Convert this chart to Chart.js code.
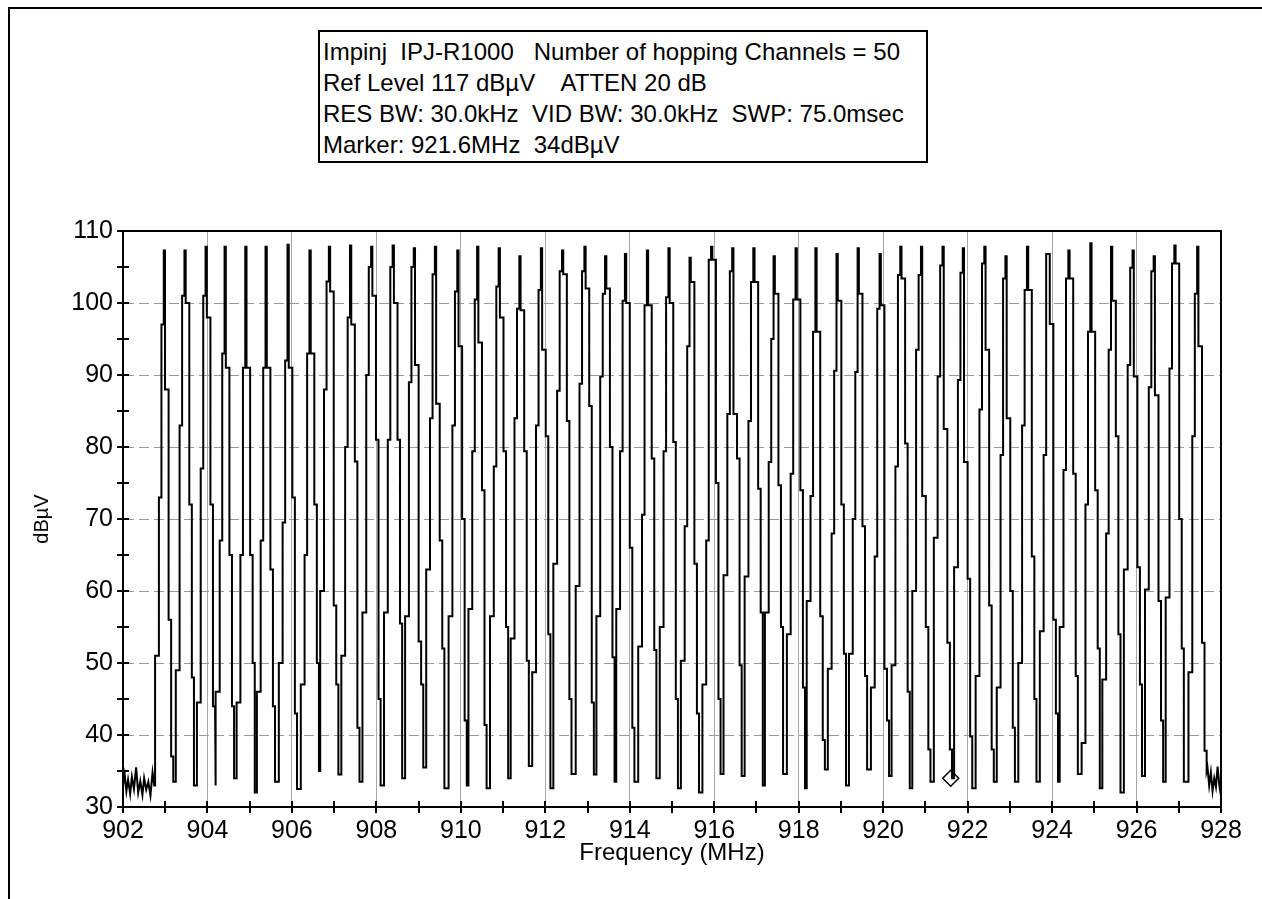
<!DOCTYPE html>
<html>
<head>
<meta charset="utf-8">
<script src="https://cdn.jsdelivr.net/npm/chart.js@4.4.1/dist/chart.umd.min.js"></script>
<style>
  html, body { margin: 0; padding: 0; background: #fff; }
  #wrap { position: relative; width: 1262px; height: 899px; overflow: hidden; }
  #frame { position: absolute; left: 8px; top: 7px; width: 1400px; height: 1000px;
    border-left: 2px solid #000; border-top: 2px solid #000; }
  #info { position: absolute; left: 318px; top: 30px; width: 610px; height: 133px;
    box-sizing: border-box; border: 2px solid #000; padding: 4px 0 0 3px;
    font-family: "Liberation Sans", Arial, sans-serif; font-size: 24px; line-height: 31px;
    white-space: pre; color: #000; background: #fff; }
  canvas { position: absolute; left: 0; top: 0; }
</style>
</head>
<body>
<div id="wrap">
  <div id="frame"></div>
  <canvas id="spectrum" width="1262" height="899"></canvas>
  <div id="info">Impinj  IPJ-R1000   Number of hopping Channels = 50
Ref Level 117 dBµV    ATTEN 20 dB
RES BW: 30.0kHz  VID BW: 30.0kHz  SWP: 75.0msec
Marker: 921.6MHz  34dBµV</div>
</div>
<script>
const FONT = '"Liberation Sans", Arial, sans-serif';

// noise floor before the first channel and after the last one (MHz, dBµV)
const leadNoiseFreq = [902.0, 902.04, 902.08, 902.12, 902.17, 902.21, 902.26, 902.31, 902.36, 902.41, 902.46, 902.5, 902.55, 902.6, 902.65, 902.7, 902.74];
const leadNoiseLevel = [33, 34.5, 32.2, 33.8, 31.8, 34.2, 32.5, 35.5, 32, 33.6, 31.7, 34, 32.4, 33.5, 31.6, 34.8, 33];
const trailNoiseFreq = [927.68, 927.72, 927.76, 927.8, 927.84, 927.88, 927.92, 927.96, 928.0];
const trailNoiseLevel = [35.5, 33, 34.8, 32.2, 34, 32.8, 35.6, 33, 31.5];

// 50 hopping channels: peak position and the levels where the trace steps
const chFreq = [902.98, 903.47, 903.97, 904.42, 904.91, 905.39, 905.91, 906.43, 906.89, 907.39,
  907.89, 908.40, 908.90, 909.40, 909.93, 910.40, 910.91, 911.40, 911.91, 912.41,
  912.94, 913.43, 913.90, 914.42, 914.93, 915.43, 915.94, 916.44, 916.94, 917.42,
  917.94, 918.41, 918.91, 919.41, 919.93, 920.42, 920.91, 921.42, 921.90, 922.41,
  922.91, 923.42, 923.93, 924.40, 924.92, 925.41, 925.92, 926.42, 926.91, 927.45];
const chPeak = [107.3, 107.3, 107.8, 107.8, 107.8, 107.8, 108.1, 107.3, 107.8, 108.0,
  107.8, 108.0, 107.6, 107.8, 107.3, 107.8, 107.6, 106.5, 107.6, 107.3,
  107.8, 106.5, 106.8, 107.3, 107.6, 106.3, 107.8, 107.6, 107.6, 106.5,
  107.6, 107.6, 106.8, 107.6, 106.8, 107.8, 107.8, 107.8, 107.6, 107.8,
  106.5, 107.8, 106.8, 107.3, 108.3, 107.8, 107.3, 106.5, 108.0, 107.8];
const riseLo = [51, 49, 44.5, 46, 44.5, 46, 50, 47, 60, 51,
  57, 57, 56.5, 63, 56.5, 57.5, 56.5, 53.4, 48.7, 63.8,
  60.7, 56.5, 57.5, 52.3, 55, 50.3, 47, 62.2, 62, 57,
  54, 58.6, 49.2, 51.3, 46.6, 49.7, 60, 67.4, 63.3, 48.2,
  46.6, 50, 54.4, 55, 38.9, 47.7, 63, 60.2, 59.1, 48.7];
const riseMid = [73, 83, 77, 67, 65, 67, 69.5, 65, 88, 80,
  90, 81, 89, 84, 83, 79.4, 77.3, 84, 83, 87.8,
  88.8, 89.8, 79.4, 70.6, 79.4, 69, 67, 84.6, 83.6, 77.9,
  76.3, 73.2, 68, 70, 64.8, 77.3, 93.5, 89.8, 89.3, 85.2,
  78.9, 83, 78.9, 76.8, 72, 68, 91.4, 88.3, 90.9, 81.5];
const riseHi = [97, 101, 101, 93, 91, 91, 92, 93, 103, 98,
  105, 105, 105, 104, 101.6, 100.5, 102.3, 99.2, 101.8, 104.4,
  104.4, 101.3, 100.3, 99.7, 100.8, 94, 106, 104.4, 102.9, 95,
  100.5, 96, 90.6, 90.4, 99.2, 103.9, 103.9, 105.2, 104.2, 105.5,
  103.4, 101.8, 106.8, 103.4, 96, 93.5, 104.9, 104.4, 105.5, 101.3];
const fallHi = [88, 100, 98, 91, 91, 91, 91, 93, 101.6, 97,
  101, 100, 91.4, 86, 94, 94.5, 98, 99, 93.5, 104,
  102, 102, 100, 99.7, 100, 102.9, 106, 84.6, 102.9, 101.3,
  100.5, 96, 100.3, 101.3, 99.7, 103.4, 73.2, 82.5, 77.9, 93.5,
  84, 101.8, 97.1, 103.4, 96, 100.3, 89.8, 87.2, 105.5, 94];
const fallMid = [56, 72, 72, 65, 65, 63, 73, 72, 58, 78,
  81, 81, 53, 67, 70, 74, 79.4, 79.4, 81.5, 83.6,
  85.7, 80, 66, 78.4, 80.7, 63.8, 75, 78.4, 74.2, 74.7,
  74, 56.5, 72, 69, 49.2, 80.5, 55, 52.8, 61.7, 58,
  60, 64.8, 56, 76.3, 74, 81.5, 63.3, 58.6, 70, 52.8];
const fallLo = [37, 48, 44, 44, 50, 44, 43, 50, 47, 41,
  45, 55.5, 47, 52, 42, 41.4, 55, 50.3, 54, 45,
  44.5, 50.8, 41, 51.8, 45, 43, 45, 49.7, 57, 55,
  46.6, 39.3, 51.3, 48.2, 42, 46, 38, 38, 39.8, 38,
  41, 45, 43, 48.2, 52, 54, 47, 42, 52, 37.8];
const chTrough = [33.5, 33, 33, 34, 32, 33.5, 32.5, 35, 34.5, 33.5,
  33, 34, 35.5, 32.6, 33, 32.6, 34, 35.7, 32.6, 34.6,
  34.5, 33.5, 33.5, 34, 32.6, 32, 34.6, 34.3, 33, 34.6,
  32.6, 35.2, 33, 35.2, 34.3, 32.6, 33.5, 34, 32.6, 33.5,
  33.5, 33.5, 33.5, 34.6, 32.6, 32, 34.3, 33.5, 33.5, 35];

const markerFreq = [921.6];
const markerLevel = [34];

const xTickLabels = [902, 904, 906, 908, 910, 912, 914, 916, 918, 920, 922, 924, 926, 928];
const yTickLabels = [30, 40, 50, 60, 70, 80, 90, 100, 110];

// sweep columns of one hop, relative to its peak (MHz)
const RISE_COLS = [-0.22, -0.13, -0.07, -0.015];
const FALL_COLS = [0.015, 0.10, 0.16, 0.21];

function buildTrace() {
  const pts = leadNoiseFreq.map((f, i) => ({ x: f, y: leadNoiseLevel[i] }));
  let prev = leadNoiseLevel[leadNoiseLevel.length - 1];
  chFreq.forEach((f, k) => {
    const up = [riseLo[k], riseMid[k], riseHi[k], chPeak[k]];
    const down = [fallHi[k], fallMid[k], fallLo[k], chTrough[k]];
    RISE_COLS.forEach((c, i) => {
      pts.push({ x: f + c, y: prev }, { x: f + c, y: up[i] });
      prev = up[i];
    });
    FALL_COLS.forEach((c, i) => {
      pts.push({ x: f + c, y: prev }, { x: f + c, y: down[i] });
      prev = down[i];
    });
  });
  trailNoiseFreq.forEach((f, i) => pts.push({ x: f, y: trailNoiseLevel[i] }));
  return pts;
}

// top/right frame of the plot and the tick marks that cross the axes
const frameTicks = {
  id: "frameTicks",
  afterDatasetsDraw(chart) {
    const { ctx, chartArea: a, scales: { x, y } } = chart;
    ctx.save();
    ctx.strokeStyle = "#000";
    ctx.lineWidth = 2;
    ctx.beginPath();
    ctx.moveTo(a.left, a.top);
    ctx.lineTo(a.right, a.top);
    ctx.lineTo(a.right, a.bottom);
    for (let f = x.min; f <= x.max; f += 1) {
      const px = Math.round(x.getPixelForValue(f));
      ctx.moveTo(px, a.bottom - 6);
      ctx.lineTo(px, a.bottom + 6);
    }
    for (let v = y.min; v <= y.max; v += 5) {
      const py = Math.round(y.getPixelForValue(v));
      ctx.moveTo(a.left - 6, py);
      ctx.lineTo(a.left + 6, py);
    }
    ctx.stroke();
    ctx.restore();
  },
};

const edgeColor = (edges, color) => (c) => (c.tick && edges.includes(c.tick.value) ? "rgba(0,0,0,0)" : color);

new Chart(document.getElementById("spectrum"), {
  type: "line",
  data: {
    datasets: [
      {
        data: buildTrace(),
        borderColor: "#000",
        borderWidth: 2,
        pointRadius: 0,
        tension: 0,
        fill: false,
      },
      {
        type: "scatter",
        data: markerFreq.map((f, i) => ({ x: f, y: markerLevel[i] })),
        pointStyle: "rectRot",
        pointRadius: 8,
        borderColor: "#000",
        borderWidth: 1.5,
        backgroundColor: "rgba(0,0,0,0)",
      },
    ],
  },
  options: {
    responsive: false,
    animation: false,
    events: [],
    layout: { padding: { left: 0, top: 231, right: 41, bottom: 31 } },
    plugins: { legend: { display: false }, tooltip: { enabled: false } },
    scales: {
      x: {
        type: "linear",
        min: 902,
        max: 928,
        afterBuildTicks: (s) => { s.ticks = xTickLabels.map((v) => ({ value: v })); },
        afterFit: (s) => { s.height = 61; },
        ticks: { color: "#000", padding: 9, maxRotation: 0, autoSkip: false, font: { family: FONT, size: 25 } },
        grid: { color: edgeColor([902, 928], "#a8a8a8"), lineWidth: 1, drawTicks: false },
        border: { color: "#000", width: 2 },
        title: { display: true, text: "Frequency (MHz)", color: "#000", padding: { top: 0, bottom: 0 }, font: { family: FONT, size: 24 } },
      },
      y: {
        min: 30,
        max: 110,
        afterBuildTicks: (s) => { s.ticks = yTickLabels.map((v) => ({ value: v })); },
        afterFit: (s) => { s.width = 123; },
        ticks: { color: "#000", padding: 10, font: { family: FONT, size: 25 } },
        grid: { color: edgeColor([30, 110], "#9a9a9a"), lineWidth: 1, drawTicks: false },
        border: { color: "#000", width: 2, dash: [10, 5] },
        title: { display: true, text: "dBµV", color: "#000", padding: { top: 30, bottom: 0 }, font: { family: FONT, size: 20 } },
      },
    },
  },
  plugins: [frameTicks],
});
</script>
</body>
</html>
